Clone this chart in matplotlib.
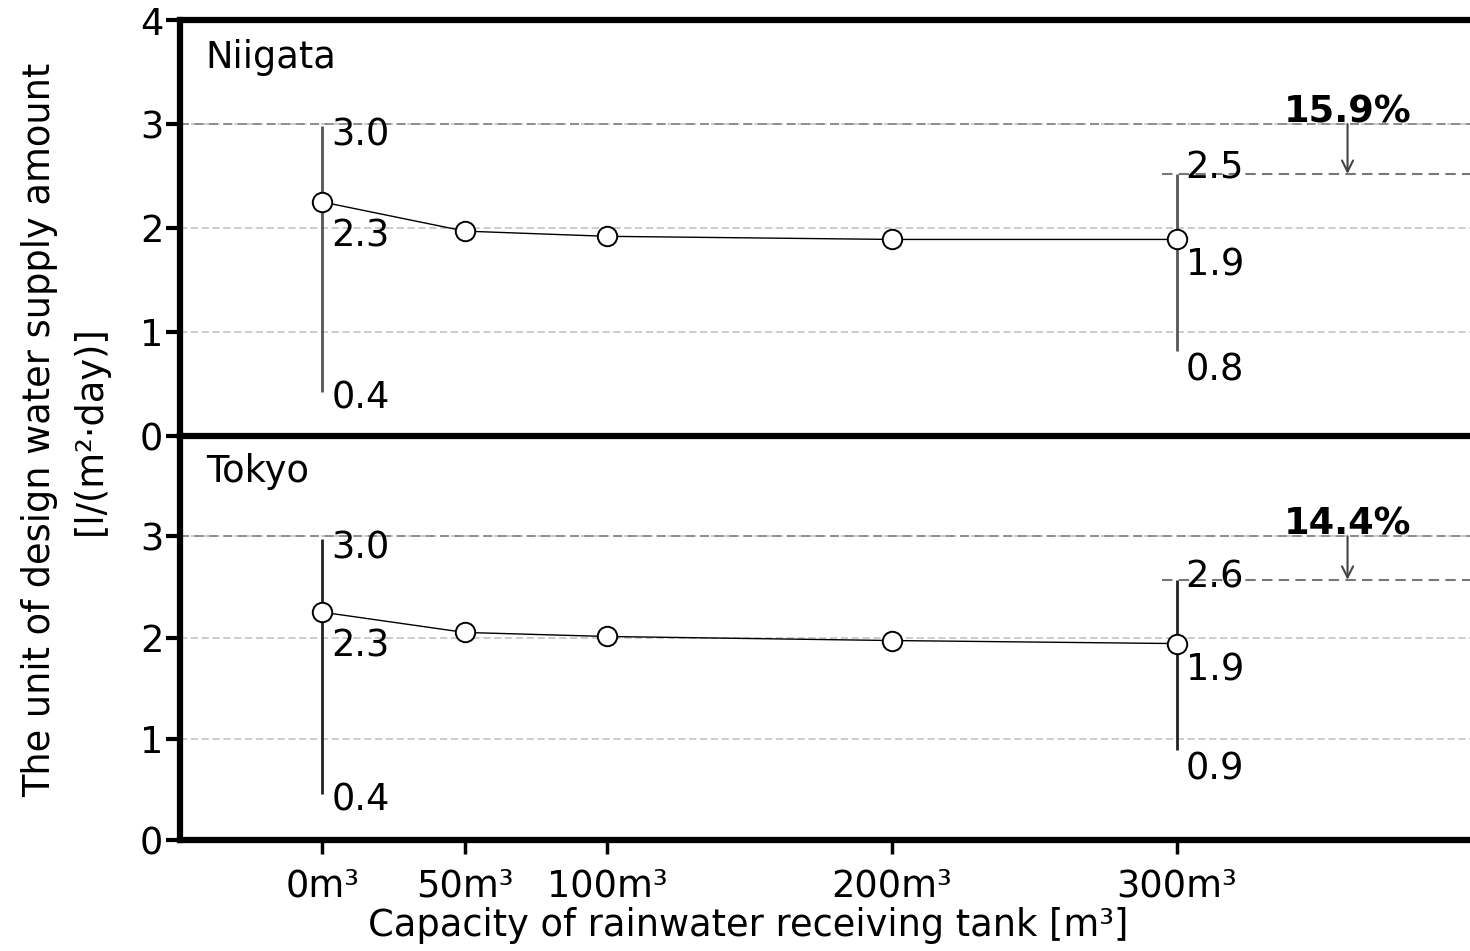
import numpy as np
import matplotlib.pyplot as plt

# tank capacity [m3]
capacity = [0, 50, 100, 200, 300]
tick_labels = ['0m³', '50m³', '100m³', '200m³', '300m³']

# mean design water supply unit [l/(m2 day)]
niigata_mean = [2.25, 1.97, 1.92, 1.89, 1.89]
tokyo_mean = [2.25, 2.05, 2.01, 1.97, 1.94]

# range (min / max) at 0m3 and 300m3
niigata_lo = [0.42, 0.82]
niigata_hi = [2.98, 2.52]
tokyo_lo = [0.45, 0.89]
tokyo_hi = [2.97, 2.57]
range_x = [0, 300]

niigata_labels = [('3.0', '2.3', '0.4'), ('2.5', '1.9', '0.8')]
tokyo_labels = [('3.0', '2.3', '0.4'), ('2.6', '1.9', '0.9')]
reductions = ['15.9%', '14.4%']

plt.rcParams['font.family'] = ['DejaVu Sans']
FS = 26.5

fig = plt.figure(figsize=(14.7, 9.51), dpi=100)
ax2 = fig.add_axes([180/1470, 1 - 840/951, 1 - 180/1470, 405/951])
ax1 = fig.add_axes([180/1470, 1 - 436/951, 1 - 180/1470, 416/951])
ax1.patch.set_alpha(0)


def draw_panel(ax, mean, lo, hi, labels, name, pct, bar_color, hi_offs):
    ax.set_xlim(-50, 403)
    ax.set_ylim(0, 4)
    for y in [1, 2, 3]:
        ax.axhline(y, color='#c8c8c8', ls=(0, (4, 2)), lw=1.3, zorder=1)
    ax.axhline(3, color='#888888', ls=(0, (5, 3)), lw=1.3, zorder=1)
    ax.plot([295, 403], [hi[1], hi[1]], color='#777777', ls=(0, (5, 3)), lw=1.5, zorder=1)
    ax.vlines(range_x, lo, hi, color=bar_color, lw=2, zorder=2)
    ax.plot(capacity, mean, color='black', lw=1, marker='o', ms=14,
            mfc='white', mec='black', mew=1.4, zorder=3)
    for i, x in enumerate(range_x):
        t_hi, t_mean, t_lo = labels[i]
        ax.annotate(t_hi, (x, hi[i]), xytext=(9, hi_offs[i]), textcoords='offset pixels',
                    ha='left', va='center', fontsize=FS)
        ax.annotate(t_mean, (x, mean[capacity.index(x)]),
                    xytext=(9, [-34, -26][i]), textcoords='offset pixels',
                    ha='left', va='center', fontsize=FS)
        ax.annotate(t_lo, (x, lo[i]), xytext=(9, [-6, -19][i]), textcoords='offset pixels',
                    ha='left', va='center', fontsize=FS)
    ax.annotate('', xy=(360, hi[1]), xytext=(360, 3),
                arrowprops=dict(arrowstyle='->', color='#444444', lw=1.5,
                                shrinkA=0, shrinkB=0, mutation_scale=20))
    ax.annotate(pct, (360, 3), xytext=(0, 2), textcoords='offset pixels',
                ha='center', va='baseline', fontsize=FS, fontweight='bold')
    ax.text(-41, 3.64, name, ha='left', va='center', fontsize=FS)
    ax.tick_params(axis='y', direction='out', length=10, width=3, labelsize=FS, pad=2)
    for s in ['left', 'top', 'bottom']:
        ax.spines[s].set_linewidth(4.5)
    ax.spines['right'].set_visible(False)


draw_panel(ax1, niigata_mean, niigata_lo, niigata_hi, niigata_labels, 'Niigata',
           reductions[0], '#555555', [-9, 6])
draw_panel(ax2, tokyo_mean, tokyo_lo, tokyo_hi, tokyo_labels, 'Tokyo',
           reductions[1], '#222222', [-9, 3])

ax1.set_yticks([0, 1, 2, 3, 4])
ax1.set_xticks([])
ax2.set_yticks([0, 1, 2, 3])
ax2.spines['top'].set_visible(False)
ax2.set_xticks(capacity)
ax2.set_xticklabels(tick_labels, fontsize=FS)
ax2.set_xticks([150, 250], minor=True)
ax2.tick_params(axis='x', direction='out', length=10, width=2.5, pad=10)
ax2.tick_params(axis='x', which='minor', length=2, width=1.5)

fig.text(65/1470, 1 - 430/951, 'The unit of design water supply amount\n[l/(m²·day)]',
         rotation=90, ha='center', va='center', fontsize=FS, linespacing=1.45)
fig.text(748/1470, 1 - 925/951, 'Capacity of rainwater receiving tank [m³]',
         ha='center', va='center', fontsize=FS)

fig.savefig('out.png', dpi=100)
